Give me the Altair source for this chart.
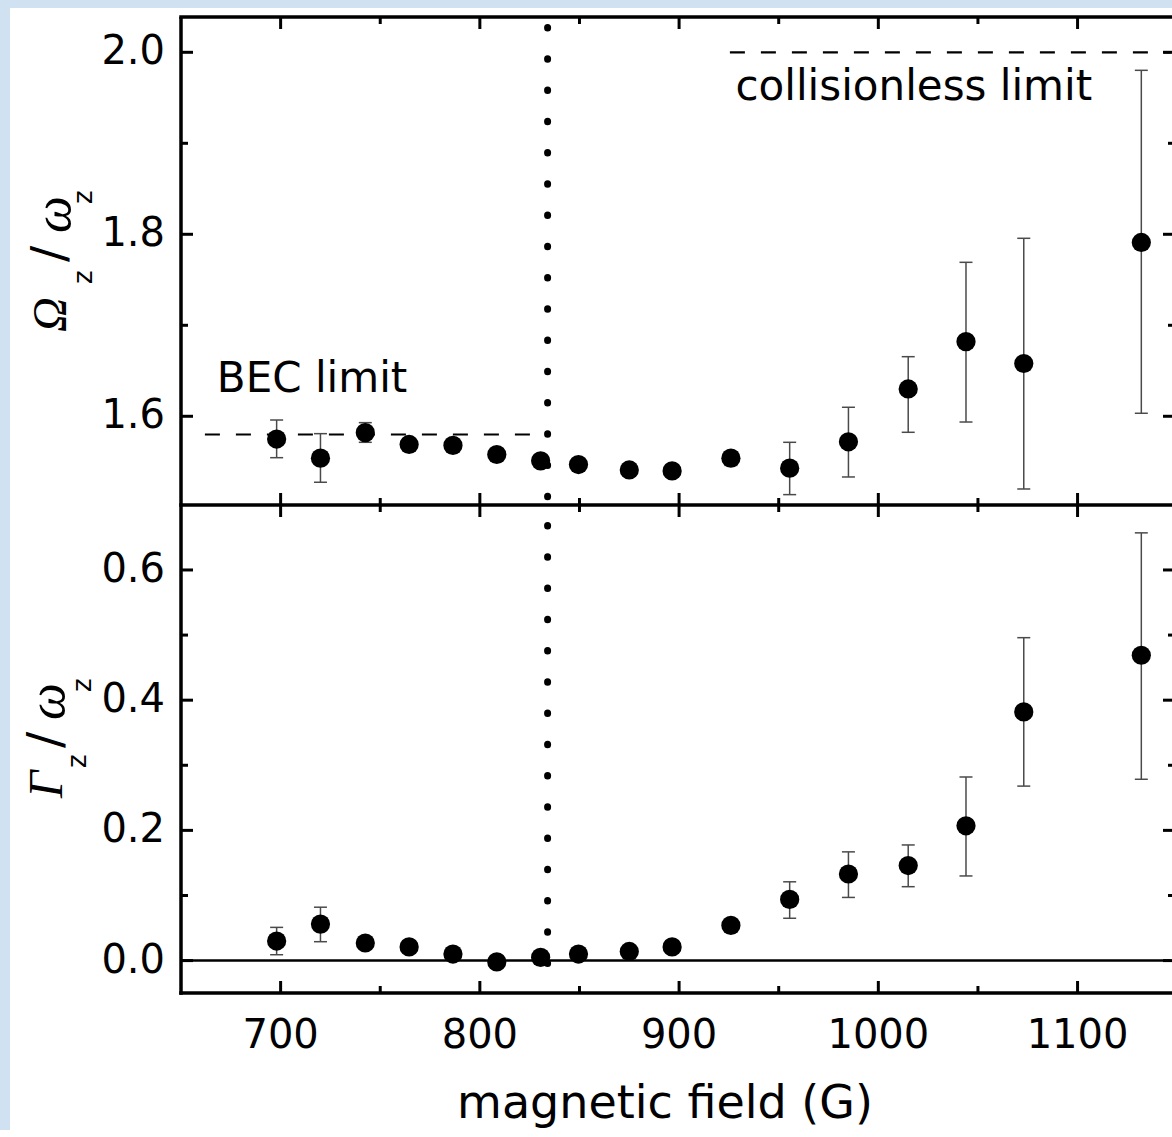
import altair as alt
import pandas as pd

# ---------------- data ----------------
field_G = [698, 720, 742.5, 764.5, 786.5, 808.5, 830.5, 849.5, 875, 896.5,
           926, 955.5, 985, 1015, 1044, 1073, 1132]
omega_ratio = [1.575, 1.554, 1.582, 1.569, 1.568, 1.558, 1.551, 1.547, 1.541, 1.540,
               1.554, 1.543, 1.572, 1.630, 1.682, 1.658, 1.791]
omega_lo = [1.5545, 1.5275, 1.5714, 1.566, 1.565, 1.555, 1.548, 1.544, 1.538, 1.537,
            1.546, 1.5139, 1.5333, 1.5824, 1.5937, 1.5201, 1.6033]
omega_hi = [1.5959, 1.5809, 1.593, 1.572, 1.571, 1.561, 1.554, 1.550, 1.544, 1.543,
            1.561, 1.5714, 1.6099, 1.6655, 1.7692, 1.7956, 1.9802]
gamma_ratio = [0.030, 0.056, 0.027, 0.021, 0.010, -0.002, 0.005, 0.010, 0.014, 0.021,
               0.054, 0.094, 0.133, 0.146, 0.207, 0.382, 0.469]
gamma_lo = [0.009, 0.029, 0.024, 0.018, 0.007, -0.005, 0.002, 0.007, 0.011, 0.018,
            0.051, 0.065, 0.097, 0.1135, 0.130, 0.268, 0.2785]
gamma_hi = [0.051, 0.082, 0.030, 0.024, 0.013, 0.001, 0.008, 0.013, 0.017, 0.024,
            0.057, 0.121, 0.167, 0.1776, 0.282, 0.496, 0.657]

x_major_ticks = [700, 800, 900, 1000, 1100]
x_minor_ticks = [750, 850, 950, 1050]
top_major_ticks = [1.6, 1.8, 2.0]
top_minor_ticks = [1.7, 1.9]
bottom_major_ticks = [0.0, 0.2, 0.4, 0.6]
bottom_minor_ticks = [0.1, 0.3, 0.5]
x_title = "magnetic field (G)"

bec_limit = [1.58]
bec_span = [662, 835]
collisionless_limit = [2.0]
collisionless_span = [925.5, 1146.8]
crossover_field = [834]
bec_label = ["BEC limit"]
bec_label_pos = [668, 1.6267]
coll_label = ["collisionless limit"]
coll_label_pos = [928.3, 1.9476]

# ---------------- layout / style ----------------
W, H = 991, 488
FONT = "DejaVu Sans"
SERIF = "Liberation Serif"
BLUE = "#d0e1f2"
ERR = "#4a4a4a"

xs = alt.Scale(domain=[650, 1147.4], nice=False, zero=False)
ys_top = alt.Scale(domain=[1.5025, 2.0388], nice=False, zero=False)
ys_bot = alt.Scale(domain=[-0.0498, 0.6998], nice=False, zero=False)

one = pd.DataFrame({"k": [0]})
main = pd.DataFrame({
    "B": field_G,
    "om": omega_ratio, "om_lo": omega_lo, "om_hi": omega_hi,
    "ga": gamma_ratio, "ga_lo": gamma_lo, "ga_hi": gamma_hi,
})


def rect(x, x2, y, y2, color="black"):
    return alt.Chart(one).mark_rect(color=color, opacity=1).encode(
        x=alt.value(x), x2=alt.value(x2), y=alt.value(y), y2=alt.value(y2))


def xticks(vals, size, yc):
    d = pd.DataFrame({"v": vals})
    return alt.Chart(d).mark_tick(orient="vertical", size=size, thickness=3,
                                  color="black", opacity=1).encode(
        x=alt.X("v:Q", scale=xs, axis=None), y=alt.value(yc))


def yticks(vals, scale, size, xc):
    d = pd.DataFrame({"v": vals})
    return alt.Chart(d).mark_tick(orient="horizontal", size=size, thickness=3,
                                  color="black", opacity=1).encode(
        y=alt.Y("v:Q", scale=scale, axis=None), x=alt.value(xc))


def ylabels(vals, scale):
    d = pd.DataFrame({"v": vals})
    return alt.Chart(d).mark_text(align="right", baseline="middle", font=FONT,
                                  fontSize=40, color="black").encode(
        y=alt.Y("v:Q", scale=scale, axis=None), x=alt.value(-16),
        text=alt.Text("v:Q", format=".1f"))


def glyph(text, x, y, size, font, style="normal"):
    return alt.Chart(one).mark_text(text=text, angle=270, align="left",
                                    baseline="alphabetic", font=font,
                                    fontSize=size, fontStyle=style,
                                    color="black").encode(
        x=alt.value(x), y=alt.value(y))


def dotted(offset):
    d = pd.DataFrame({"B": crossover_field})
    return alt.Chart(d).mark_rule(strokeDash=[0.5, 30.75], strokeCap="round",
                                  strokeWidth=7, strokeDashOffset=offset,
                                  color="black").encode(
        x=alt.X("B:Q", scale=xs, axis=None),
        y=alt.value(4), y2=alt.value(H - 4))


def errorbars(lo, hi, scale):
    bar = alt.Chart(main).mark_rule(color=ERR, strokeWidth=1.5).encode(
        x=alt.X("B:Q", scale=xs, axis=None),
        y=alt.Y(f"{lo}:Q", scale=scale, axis=None), y2=f"{hi}:Q")
    caps = [
        alt.Chart(main).mark_tick(orient="horizontal", size=13, thickness=1.5,
                                  color=ERR, opacity=1).encode(
            x=alt.X("B:Q", scale=xs, axis=None),
            y=alt.Y(f"{c}:Q", scale=scale, axis=None))
        for c in (lo, hi)
    ]
    return [bar] + caps


def points(col, scale):
    return alt.Chart(main).mark_circle(size=370, color="black", opacity=1).encode(
        x=alt.X("B:Q", scale=xs, axis=None),
        y=alt.Y(f"{col}:Q", scale=scale, axis=None))


# ---------------- top panel ----------------
lim_df = pd.DataFrame({"x1": [bec_span[0], collisionless_span[0]],
                       "x2": [bec_span[1], collisionless_span[1]],
                       "y": [bec_limit[0], collisionless_limit[0]]})
lab_df = pd.DataFrame({"x": [bec_label_pos[0], coll_label_pos[0]],
                       "y": [bec_label_pos[1], coll_label_pos[1]],
                       "t": [bec_label[0], coll_label[0]]})

top_layers = [
    rect(-181, -171, -17, H, BLUE),
    rect(-181, W, -17, -9, BLUE),
    dotted(24.8),
    alt.Chart(lim_df).mark_rule(strokeDash=[15, 16], strokeWidth=2.2, color="black").encode(
        x=alt.X("x1:Q", scale=xs, axis=None), x2="x2:Q",
        y=alt.Y("y:Q", scale=ys_top, axis=None)),
    *errorbars("om_lo", "om_hi", ys_top),
    points("om", ys_top),
    alt.Chart(lab_df).mark_text(align="left", baseline="alphabetic", font=FONT,
                                fontSize=42, color="black").encode(
        x=alt.X("x:Q", scale=xs, axis=None),
        y=alt.Y("y:Q", scale=ys_top, axis=None), text="t:N"),
    # frame
    rect(-1.75, 1.75, 0, H),
    rect(-1.75, W, -1.75, 1.75),
    rect(-1.75, W, H - 1.75, H),
    # inward ticks
    xticks(x_major_ticks, 12, 6),
    xticks(x_minor_ticks, 7, 3.5),
    xticks(x_major_ticks, 12, H - 6),
    xticks(x_minor_ticks, 7, H - 3.5),
    yticks(top_major_ticks, ys_top, 12, 6),
    yticks(top_minor_ticks, ys_top, 7, 3.5),
    yticks(top_major_ticks, ys_top, 9, W - 4.5),
    yticks(top_minor_ticks, ys_top, 4, W - 2),
    ylabels(top_major_ticks, ys_top),
    # y title  Omega_z / omega_z
    glyph("\u03a9", -115, 315, 48, SERIF, "italic"),
    glyph("z", -89, 267, 26, FONT),
    glyph("/", -116, 245, 48, FONT),
    glyph("\u03c9", -111, 216, 52, SERIF, "italic"),
    glyph("z", -89, 187, 26, FONT),
]
top = alt.layer(*top_layers).properties(width=W, height=H)

# ---------------- bottom panel ----------------
zero_df = pd.DataFrame({"z": [0.0]})
xlab_df = pd.DataFrame({"v": x_major_ticks})

bottom_layers = [
    rect(-181, -171, 0, 625, BLUE),
    dotted(14.8),
    alt.Chart(zero_df).mark_rule(color="black", strokeWidth=2.5).encode(
        y=alt.Y("z:Q", scale=ys_bot, axis=None),
        x=alt.value(0), x2=alt.value(W - 1.3)),
    *errorbars("ga_lo", "ga_hi", ys_bot),
    points("ga", ys_bot),
    # frame
    rect(-1.75, 1.75, 0, H + 1.75),
    rect(-1.75, W, 0, 1.75),
    rect(-1.75, W, H - 1.75, H + 1.75),
    # inward ticks
    xticks(x_major_ticks, 12, 6),
    xticks(x_minor_ticks, 7, 3.5),
    xticks(x_major_ticks, 12, H - 6),
    xticks(x_minor_ticks, 7, H - 3.5),
    yticks(bottom_major_ticks, ys_bot, 12, 6),
    yticks(bottom_minor_ticks, ys_bot, 7, 3.5),
    yticks(bottom_major_ticks, ys_bot, 9, W - 4.5),
    yticks(bottom_minor_ticks, ys_bot, 4, W - 2),
    ylabels(bottom_major_ticks, ys_bot),
    # x tick labels and title
    alt.Chart(xlab_df).mark_text(align="center", baseline="top", font=FONT,
                                 fontSize=40, color="black").encode(
        x=alt.X("v:Q", scale=xs, axis=None), y=alt.value(H + 23),
        text=alt.Text("v:Q", format="d")),
    alt.Chart(one).mark_text(text=x_title, align="center", baseline="alphabetic",
                             font=FONT, fontSize=46, color="black").encode(
        x=alt.value(484), y=alt.value(H + 125)),
    # y title  Gamma_z / omega_z
    glyph("\u0393", -119, 293, 48, SERIF, "italic"),
    glyph("z", -95, 263, 26, FONT),
    glyph("/", -120, 243, 48, FONT),
    glyph("\u03c9", -117, 215, 52, SERIF, "italic"),
    glyph("z", -90, 187, 26, FONT),
]
bottom = alt.layer(*bottom_layers).properties(width=W, height=H)

chart = (
    alt.vconcat(top, bottom, spacing=0)
    .properties(padding=0, background="white")
    .configure_view(strokeWidth=0)
)

chart.save("out.html", embed_options={"renderer": "svg", "actions": False})
